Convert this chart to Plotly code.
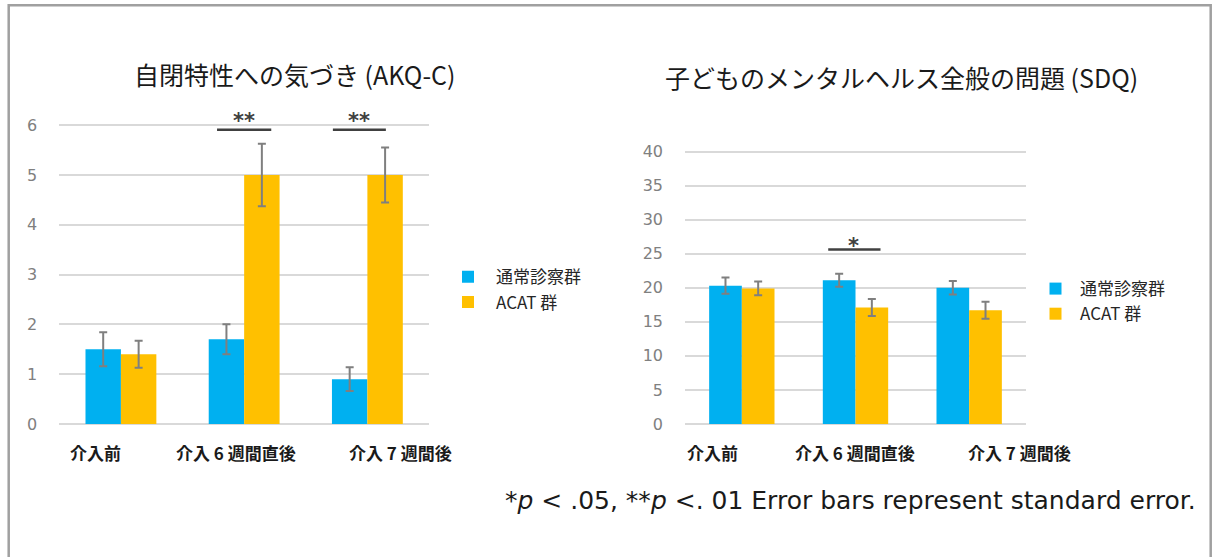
import plotly.graph_objects as go

W, H = 1213, 557

categories = ["介入前", "介入 6 週間直後", "介入 7 週間後"]
series_names = ["通常診察群", "ACAT 群"]

akq_usual = [1.5, 1.7, 0.9]
akq_usual_se = [0.34, 0.30, 0.24]
akq_acat = [1.4, 5.0, 5.0]
akq_acat_se = [0.27, 0.63, 0.55]

sdq_usual = [20.3, 21.1, 20.0]
sdq_usual_se = [1.2, 0.95, 1.0]
sdq_acat = [19.9, 17.1, 16.7]
sdq_acat_se = [1.0, 1.25, 1.25]

akq_ticks = [0, 1, 2, 3, 4, 5, 6]
sdq_ticks = [0, 5, 10, 15, 20, 25, 30, 35, 40]

akq_title = "自閉特性への気づき (AKQ-C)"
sdq_title = "子どものメンタルヘルス全般の問題 (SDQ)"
footer = "*<i>p</i> < .05, **<i>p</i> <. 01 Error bars represent standard error."

# significance marks: (category index, label, line y, label y)
akq_sig = [(1, "**", 5.91, 6.08), (2, "**", 5.91, 6.08)]
sdq_sig = [(1, "*", 25.6, 26.1)]

BLUE = "#00B0F0"
ORANGE = "#FFC000"
ERR = "#7F7F7F"
GRID = "#D9D9D9"
CJK = "Noto Sans CJK JP"

def px(x):
    return x / W

def py(y):
    return 1 - y / H

fig = go.Figure()

def add_bars(vals, se, name, color, xa, ya, legend):
    fig.add_trace(go.Bar(
        x=categories, y=vals, name=name, marker=dict(color=color, line=dict(width=0)),
        error_y=dict(type="data", array=se, visible=True, color=ERR, thickness=2, width=4),
        xaxis=xa, yaxis=ya, legend=legend,
    ))

add_bars(akq_usual, akq_usual_se, series_names[0], BLUE, "x", "y", "legend")
add_bars(akq_acat, akq_acat_se, series_names[1], ORANGE, "x", "y", "legend")
add_bars(sdq_usual, sdq_usual_se, series_names[0], BLUE, "x2", "y2", "legend2")
add_bars(sdq_acat, sdq_acat_se, series_names[1], ORANGE, "x2", "y2", "legend2")

y0px = 431.7
akq_pp = 50.7
sdq_pp = 6.935
akq_top = 6.4
sdq_top = 42

yaxis_common = dict(
    showgrid=True, gridcolor=GRID, gridwidth=2,
    zeroline=True, zerolinecolor=GRID, zerolinewidth=2,
    showline=False, ticks="", ticklabelstandoff=21,
    tickfont=dict(family="DejaVu Sans", size=16, color="#808080"),
    fixedrange=True,
)
xaxis_common = dict(showgrid=False, zeroline=False, showline=False, showticklabels=False,
                    ticks="", type="category", fixedrange=True, range=[-0.5, 2.5],
                    autorange=False)

fig.update_layout(
    width=W, height=H, autosize=False,
    margin=dict(l=0, r=0, t=0, b=0),
    paper_bgcolor="white", plot_bgcolor="white",
    barmode="group", bargap=0.425, bargroupgap=0,
    xaxis=dict(domain=[px(59.3), px(429)], anchor="y", **xaxis_common),
    yaxis=dict(domain=[py(y0px), py(y0px - akq_top * akq_pp)], range=[0, akq_top],
               tickvals=akq_ticks, anchor="x", **yaxis_common),
    xaxis2=dict(domain=[px(685), px(1026)], anchor="y2", **xaxis_common),
    yaxis2=dict(domain=[py(y0px), py(y0px - sdq_top * sdq_pp)], range=[0, sdq_top],
                tickvals=sdq_ticks, anchor="x2", **yaxis_common),
    legend=dict(x=px(440), y=py(264), xanchor="left", yanchor="top",
                font=dict(family=CJK, size=17, color="#262626"),
                bgcolor="rgba(0,0,0,0)", itemwidth=46, tracegroupgap=0),
    legend2=dict(x=px(1031), y=py(276), xanchor="left", yanchor="top",
                 font=dict(family=CJK, size=17, color="#262626"),
                 bgcolor="rgba(0,0,0,0)", itemwidth=39, tracegroupgap=0),
    showlegend=True,
)

annotations = []
shapes = []

# titles
annotations.append(dict(text=akq_title, x=px(294), y=py(75), xref="paper", yref="paper",
                        showarrow=False, xanchor="center", yanchor="middle",
                        font=dict(family=CJK, size=25, color="#1A1A1A")))
annotations.append(dict(text=sdq_title, x=px(901), y=py(78), xref="paper", yref="paper",
                        showarrow=False, xanchor="center", yanchor="middle",
                        font=dict(family=CJK, size=25, color="#1A1A1A")))

# category labels (offset as in the original)
akq_label_shift = [-25, -8, 33]
sdq_label_shift = [-29, -1, 50]
for cat, sh in zip(categories, akq_label_shift):
    annotations.append(dict(text=f"<b>{cat}</b>", x=cat, xref="x", y=py(461), yref="paper",
                            xshift=sh, showarrow=False, xanchor="center", yanchor="middle",
                            font=dict(family=CJK, size=17, color="#1A1A1A")))
for cat, sh in zip(categories, sdq_label_shift):
    annotations.append(dict(text=f"<b>{cat}</b>", x=cat, xref="x2", y=py(461), yref="paper",
                            xshift=sh, showarrow=False, xanchor="center", yanchor="middle",
                            font=dict(family=CJK, size=17, color="#1A1A1A")))

# significance lines and stars
akq_line_span = {1: (-0.22, 0.22), 2: (-0.28, 0.15)}
akq_star_off = {1: 0.0, 2: -0.065}
for idx, lab, ly, sy in akq_sig:
    a, b = akq_line_span[idx]
    shapes.append(dict(type="line", xref="x", yref="y", x0=idx + a, x1=idx + b, y0=ly, y1=ly,
                       line=dict(color="#404040", width=2.5)))
    annotations.append(dict(text=f"<b>{lab}</b>", x=idx + akq_star_off[idx], y=sy, xref="x", yref="y",
                            showarrow=False, xanchor="center", yanchor="middle",
                            font=dict(family="DejaVu Sans", size=21, color="#404040")))
for idx, lab, ly, sy in sdq_sig:
    shapes.append(dict(type="line", xref="x2", yref="y2", x0=idx - 0.24, x1=idx + 0.22, y0=ly, y1=ly,
                       line=dict(color="#404040", width=2.5)))
    annotations.append(dict(text=f"<b>{lab}</b>", x=idx - 0.02, y=sy, xref="x2", yref="y2",
                            showarrow=False, xanchor="center", yanchor="middle",
                            font=dict(family="DejaVu Sans", size=21, color="#404040")))

# footer note
annotations.append(dict(text=footer, x=px(1198), y=py(510), xref="paper", yref="paper",
                        showarrow=False, xanchor="right", yanchor="middle",
                        font=dict(family="DejaVu Sans", size=25, color="#1A1A1A")))

# outer frame
shapes.append(dict(type="rect", xref="paper", yref="paper", x0=px(8.7), x1=px(1210.7),
                   y0=-0.1, y1=py(5.3), line=dict(color="#A0A0A0", width=2.5),
                   fillcolor="rgba(0,0,0,0)", layer="below"))

fig.update_layout(annotations=annotations, shapes=shapes)

fig.write_html("out.html", config={"displayModeBar": False})
